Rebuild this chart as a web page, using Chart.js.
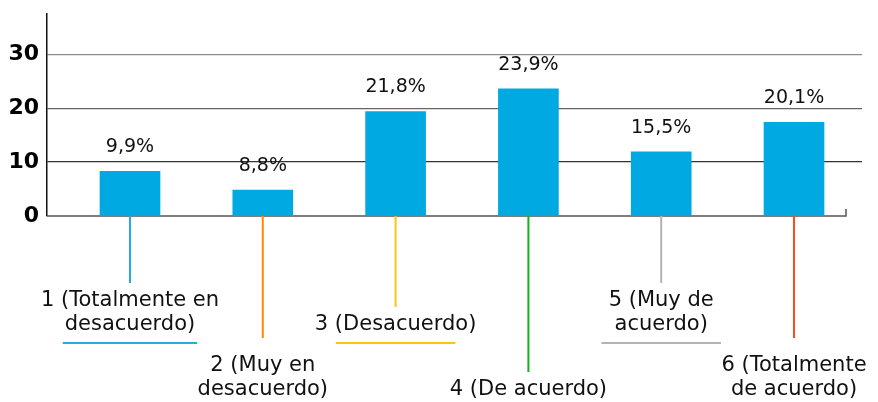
<!DOCTYPE html>
<html>
<head>
<meta charset="utf-8">
<script src="https://cdn.jsdelivr.net/npm/chart.js@4.4.0/dist/chart.umd.min.js"></script>
<style>
  html, body { margin: 0; padding: 0; background: #fff; }
  #wrap { width: 878px; height: 402px; }
</style>
</head>
<body>
<div id="wrap"><canvas id="grafico" width="878" height="402"></canvas></div>
<script>
// categorías (líneas de cada etiqueta)
const categorias = [
  ['1 (Totalmente en', 'desacuerdo)'],
  ['2 (Muy en', 'desacuerdo)'],
  ['3 (Desacuerdo)'],
  ['4 (De acuerdo)'],
  ['5 (Muy de', 'acuerdo)'],
  ['6 (Totalmente', 'de acuerdo)']
];
// altura de las barras tal como se ven en la imagen
const alturas = [8.3, 4.8, 19.4, 23.6, 11.9, 17.4];
// texto sobre cada barra
const etiquetas = ['9,9%', '8,8%', '21,8%', '23,9%', '15,5%', '20,1%'];
const ticksY = [0, 10, 20, 30];
const coloresGuia = ['#29abe2', '#ff8a00', '#ffc412', '#11b21a', '#b3b3b3', '#ff4a1c'];

const FUENTE = "'DejaVu Sans', sans-serif";

// eje x, etiquetas de categoría con línea guía y subrayado
const pluginCategorias = {
  id: 'categorias',
  beforeDatasetsDraw(chart) {
    const { ctx, chartArea, scales: { y } } = chart;
    const y0 = y.getPixelForValue(0);
    ctx.save();
    ctx.strokeStyle = '#555';
    ctx.lineWidth = 1.5;
    ctx.beginPath();
    ctx.moveTo(chartArea.left, y0);
    ctx.lineTo(chartArea.right - 16, y0);
    ctx.lineTo(chartArea.right - 16, y0 - 7);
    ctx.stroke();
    ctx.restore();
  },
  afterDraw(chart) {
    const { ctx, scales: { x, y } } = chart;
    const y0 = y.getPixelForValue(0);
    const unidad = x.getPixelForValue(1) - x.getPixelForValue(0);
    ctx.save();
    ctx.font = '21px ' + FUENTE;
    ctx.textAlign = 'center';
    ctx.textBaseline = 'middle';
    categorias.forEach((lineas, i) => {
      const cx = x.getPixelForValue(i);
      const abajo = i % 2 === 1;
      const ultimaY = abajo ? y0 + 174 : y0 + 109;
      const primeraY = ultimaY - (lineas.length - 1) * 24;
      const finGuia = primeraY - (abajo && lineas.length > 1 ? 28 : 18);
      ctx.strokeStyle = coloresGuia[i];
      ctx.lineWidth = 2;
      ctx.beginPath();
      ctx.moveTo(cx, y0);
      ctx.lineTo(cx, finGuia);
      ctx.stroke();
      ctx.fillStyle = '#111';
      lineas.forEach((t, k) => ctx.fillText(t, cx, primeraY + k * 24));
      if (!abajo) {
        let ancho = unidad * 0.9;
        if (lineas.length > 1) ancho = Math.max(ancho, ctx.measureText(lineas[lineas.length - 1]).width + 4);
        ctx.beginPath();
        ctx.moveTo(cx - ancho / 2, ultimaY + 18);
        ctx.lineTo(cx + ancho / 2, ultimaY + 18);
        ctx.stroke();
      }
    });
    // porcentajes sobre las barras
    const meta = chart.getDatasetMeta(0);
    ctx.font = '19px ' + FUENTE;
    ctx.fillStyle = '#111';
    meta.data.forEach((barra, i) => {
      ctx.fillText(etiquetas[i], barra.x, barra.y - 24);
    });
    ctx.restore();
  }
};

const ctx = document.getElementById('grafico').getContext('2d');

new Chart(ctx, {
  type: 'bar',
  data: {
    datasets: [{
      data: alturas.map((v, i) => ({ x: i, y: v })),
      backgroundColor: '#00a9e2',
      barThickness: 60
    }]
  },
  options: {
    responsive: false,
    animation: false,
    devicePixelRatio: 1,
    layout: { padding: { top: 14, right: 16, bottom: 186, left: 0 } },
    plugins: { legend: { display: false }, tooltip: { enabled: false } },
    scales: {
      x: {
        type: 'linear',
        offset: false,
        min: -0.625,
        max: 5.512,
        display: false
      },
      y: {
        min: 0,
        max: 37.5,
        afterBuildTicks: (scale) => {
          scale.ticks = ticksY.map(v => ({ value: v }));
        },
        afterFit: (scale) => {
          scale.width = 47;
          scale.paddingTop = 0;
          scale.paddingBottom = 0;
        },
        border: { display: true, color: '#111', width: 1.5 },
        grid: {
          drawTicks: false,
          lineWidth: 1.3,
          color: (c) => {
            const v = c.tick && c.tick.value;
            if (v === 30) return '#8a8a8a';
            if (v === 20) return '#666';
            if (v === 10) return '#333';
            return 'rgba(0,0,0,0)';
          }
        },
        ticks: {
          padding: 8,
          color: '#000',
          font: { family: FUENTE, size: 22, weight: 'bold' }
        }
      }
    }
  },
  plugins: [pluginCategorias]
});
</script>
</body>
</html>
